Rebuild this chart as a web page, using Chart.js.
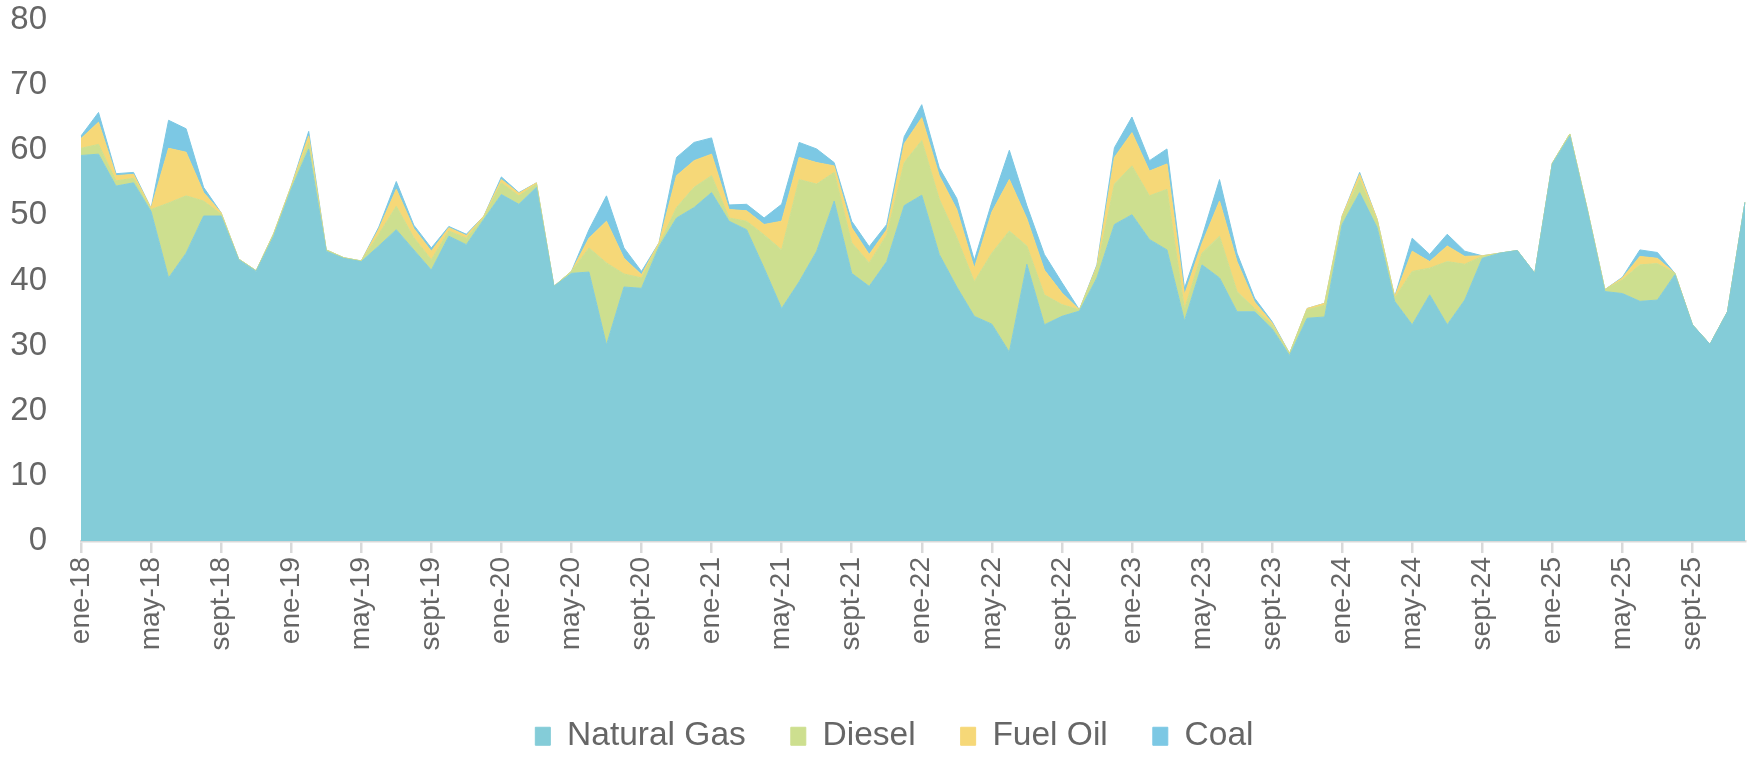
<!DOCTYPE html>
<html>
<head>
<meta charset="utf-8">
<script src="https://cdn.jsdelivr.net/npm/chart.js@4/dist/chart.umd.min.js"></script>
<style>
  html, body { margin: 0; padding: 0; background: #ffffff; }
  #wrap { width: 1754px; height: 757px; position: relative; }
  canvas { display: block; }
</style>
</head>
<body>
<div id="wrap"><canvas id="c" width="1754" height="757"></canvas></div>
<script>
// ---- categories (monthly, ene-18 .. dic-25) ----
const monthNames = ['ene','feb','mar','abr','may','jun','jul','ago','sept','oct','nov','dic'];
const years = ['18','19','20','21','22','23','24','25'];
const categories = [];
years.forEach(y => monthNames.forEach(m => categories.push(m + '-' + y)));

// ---- series values ----
const naturalGas = [
  59.2, 59.4, 54.5, 55.0, 50.6, 40.4, 44.2, 49.9, 49.9, 43.2, 41.4, 46.8,
  54.0, 60.2, 44.5, 43.4, 42.9, 45.3, 47.8, 44.7, 41.6, 46.8, 45.5, 49.4,
  53.2, 51.7, 54.3, 39.1, 41.1, 41.3, 30.1, 39.0, 38.8, 45.2, 49.6, 51.2,
  53.5, 49.1, 47.8, 41.9, 35.7, 39.8, 44.5, 52.2, 41.1, 39.1, 42.9, 51.5,
  53.1, 44.0, 39.0, 34.5, 33.3, 29.0, 42.5, 33.2, 34.5, 35.3, 40.4, 48.6,
  50.1, 46.3, 44.7, 33.8, 42.4, 40.4, 35.2, 35.2, 32.6, 28.5, 34.2, 34.4,
  48.6, 53.5, 48.1, 36.8, 33.2, 37.8, 33.2, 37.0, 43.4, 44.2, 44.6, 41.1,
  57.9, 62.2, 50.7, 38.3, 38.0, 36.8, 37.0, 40.9, 33.2, 30.2, 35.2, 52.0
];
const diesel = [
  1.1, 1.5, 0.8, 0.7, 0.3, 11.5, 8.8, 2.3, 0.3, 0.1, 0.1, 0.3,
  0.3, 1.0, 0.2, 0.1, 0.1, 1.8, 3.6, 1.9, 1.6, 0.8, 1.0, 0.3,
  1.8, 1.3, 0.5, 0.0, 0.3, 3.7, 12.6, 2.0, 1.6, 0.3, 1.6, 3.1,
  2.6, 0.5, 1.3, 5.1, 9.0, 15.7, 10.3, 4.4, 4.7, 3.6, 4.1, 6.6,
  8.4, 8.5, 7.6, 5.3, 10.9, 18.6, 2.8, 4.6, 1.8, 0.2, 1.5, 6.2,
  7.5, 6.7, 9.3, 1.8, 1.8, 6.4, 3.1, 0.5, 0.6, 0.3, 1.3, 1.8,
  1.0, 2.0, 1.0, 0.5, 8.2, 4.1, 9.7, 5.5, 0.3, 0.0, 0.0, 0.0,
  0.1, 0.3, 0.2, 0.3, 2.1, 5.6, 5.6, 0.2, 0.0, 0.0, 0.0, 0.0
];
const fuelOil = [
  1.5, 3.4, 0.8, 0.6, 0.2, 8.4, 6.7, 1.3, 0.2, 0.0, 0.0, 0.1,
  0.2, 1.0, 0.0, 0.0, 0.0, 0.8, 2.6, 1.4, 1.3, 0.5, 0.4, 0.2,
  0.5, 0.4, 0.2, 0.0, 0.0, 1.5, 6.4, 2.4, 0.5, 0.3, 4.9, 4.1,
  3.3, 1.3, 1.6, 1.6, 4.4, 3.4, 3.3, 1.0, 2.3, 1.3, 0.8, 2.9,
  3.5, 3.6, 4.3, 2.1, 6.3, 7.9, 4.2, 3.8, 1.8, 0.0, 0.3, 4.1,
  5.1, 3.8, 3.9, 2.2, 1.5, 5.4, 4.6, 1.0, 0.3, 0.0, 0.2, 0.3,
  0.3, 0.8, 0.3, 0.2, 3.1, 1.0, 2.4, 1.2, 0.1, 0.0, 0.0, 0.0,
  0.0, 0.0, 0.0, 0.0, 0.3, 1.3, 0.8, 0.0, 0.0, 0.0, 0.0, 0.0
];
const coal = [
  0.4, 1.5, 0.3, 0.3, 0.0, 4.3, 3.6, 0.8, 0.0, 0.0, 0.0, 0.0,
  0.0, 0.7, 0.0, 0.0, 0.0, 0.3, 1.2, 0.5, 0.5, 0.2, 0.2, 0.0,
  0.4, 0.1, 0.0, 0.0, 0.0, 1.3, 3.9, 1.6, 0.5, 0.0, 2.8, 2.8,
  2.5, 0.7, 1.0, 1.0, 2.6, 2.3, 2.1, 0.5, 1.0, 1.2, 0.8, 1.1,
  2.0, 1.2, 1.7, 1.2, 1.5, 4.5, 2.0, 2.4, 1.6, 0.0, 0.2, 1.5,
  2.4, 1.6, 2.3, 1.0, 1.0, 3.3, 1.3, 0.6, 0.2, 0.0, 0.0, 0.0,
  0.0, 0.3, 0.0, 0.0, 2.0, 1.1, 1.8, 0.8, 0.0, 0.0, 0.0, 0.0,
  0.0, 0.0, 0.0, 0.0, 0.1, 1.0, 0.9, 0.0, 0.0, 0.0, 0.0, 0.0
];

// ---- y tick labels ----
const yTicks = [0, 10, 20, 30, 40, 50, 60, 70, 80];
const xLabelEvery = 4;

const COLORS = {
  gas: 'rgb(132,204,216)',
  diesel: 'rgb(205,223,143)',
  fuel: 'rgb(246,216,120)',
  coal: 'rgb(124,200,228)'
};
const TEXT = '#666666';
const AXIS = '#d9d9d9';
const FONT = "'Liberation Sans', Arial, sans-serif";

function ds(label, data, color, fill) {
  return {
    label, data, fill,
    backgroundColor: color,
    borderColor: color,
    borderWidth: 1,
    pointRadius: 0,
    pointHoverRadius: 0,
    tension: 0
  };
}

new Chart(document.getElementById('c'), {
  type: 'line',
  data: {
    labels: categories,
    datasets: [
      ds('Natural Gas', naturalGas, COLORS.gas, 'origin'),
      ds('Diesel', diesel, COLORS.diesel, '-1'),
      ds('Fuel Oil', fuelOil, COLORS.fuel, '-1'),
      ds('Coal', coal, COLORS.coal, '-1')
    ]
  },
  options: {
    responsive: false,
    animation: false,
    devicePixelRatio: 1,
    layout: { padding: { left: 0, right: 9, top: 20, bottom: -6 } },
    plugins: {
      tooltip: { enabled: false },
      legend: {
        position: 'bottom',
        fullSize: false,
        labels: {
          boxWidth: 15,
          boxHeight: 18,
          padding: 45,
          color: TEXT,
          font: { family: FONT, size: 33.5 },
          generateLabels: (chart) => {
            const items = Chart.defaults.plugins.legend.labels.generateLabels(chart);
            // trailing spacing so the centred legend group sits where the reference has it
            items[items.length - 1].text += '    ';
            return items;
          }
        }
      }
    },
    scales: {
      x: {
        type: 'category',
        offset: false,
        grid: {
          display: true,
          drawOnChartArea: false,
          drawTicks: true,
          tickLength: 12,
          lineWidth: 2.5,
          color: (ctx) => (ctx.index % xLabelEvery === 0 ? AXIS : 'rgba(0,0,0,0)')
        },
        border: { display: true, color: AXIS, width: 2.5 },
        ticks: {
          autoSkip: false,
          maxRotation: 90,
          minRotation: 90,
          padding: 4,
          color: TEXT,
          font: { family: FONT, size: 28, lineHeight: 0.01 },
          callback: (v, i) => (i % xLabelEvery === 0 ? categories[i] : '')
        },
        afterFit: (s) => { s.height = 133.5; }
      },
      y: {
        stacked: true,
        min: yTicks[0],
        max: yTicks[yTicks.length - 1],
        afterBuildTicks: (s) => { s.ticks = yTicks.map(v => ({ value: v })); },
        grid: { display: false, drawTicks: true, tickLength: 34 },
        border: { display: false },
        ticks: {
          padding: 0,
          color: TEXT,
          font: { family: FONT, size: 33 }
        },
        afterFit: (s) => { s.width = 81; }
      }
    }
  }
});
</script>
</body>
</html>
